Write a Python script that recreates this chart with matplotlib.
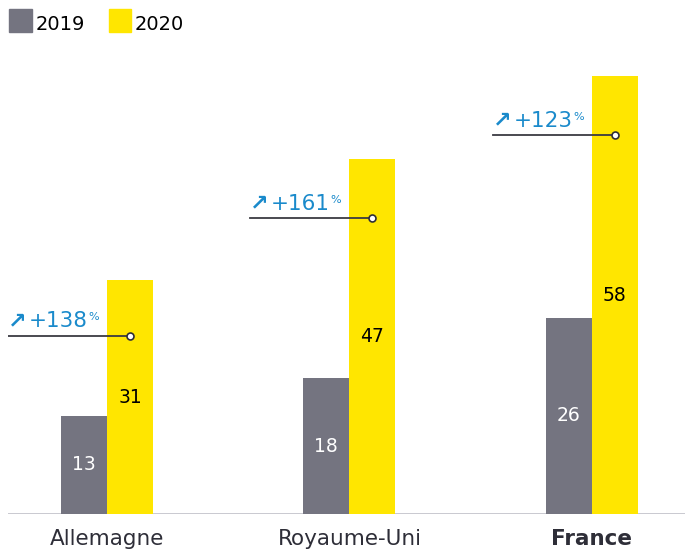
import matplotlib.pyplot as plt
from matplotlib.patches import Rectangle
import numpy as np

# ---------------- donnees ----------------
pays = ['Allemagne', 'Royaume-Uni', 'France']
val_2019 = [13, 18, 26]
val_2020 = [31, 47, 58]
hausse = ['+138', '+161', '+123']
niveau_ligne = [23.6, 39.2, 50.2]

gris = '#747480'
jaune = '#FFE600'
bleu = '#1a8acb'

fig = plt.figure(figsize=(6.85, 5.51), dpi=100)
ax = fig.add_axes([8 / 685, 37 / 551, 677 / 685, 483 / 551])

x = np.arange(len(pays))
w = 0.19
ax.bar(x - w / 2, val_2019, w, color=gris, zorder=2)
ax.bar(x + w / 2, val_2020, w, color=jaune, zorder=2)

for i in range(len(pays)):
    ax.text(x[i] - w / 2, val_2019[i] / 2, str(val_2019[i]), ha='center', va='center',
            color='white', fontsize=13.5, zorder=3)
    ax.text(x[i] + w / 2, val_2020[i] / 2, str(val_2020[i]), ha='center', va='center',
            color='black', fontsize=13.5, zorder=3)
    # ligne d'annotation
    x0 = x[i] - 0.408
    x1 = x[i] + w / 2
    ax.plot([x0, x1], [niveau_ligne[i]] * 2, color='#3a3a42', lw=1.3, zorder=4)
    ax.plot([x1], [niveau_ligne[i]], 'o', ms=5, mfc='white', mec='#2e2e38', mew=1.2, zorder=5)
    ax.text(x0, niveau_ligne[i] + 0.6, '\u2197', color=bleu, fontsize=16, fontweight='bold',
            ha='left', va='bottom', zorder=5)
    ax.text(x0 + 0.085, niveau_ligne[i] + 0.6, hausse[i], color=bleu, fontsize=15.5,
            ha='left', va='bottom', zorder=5)
    ax.text(x0 + 0.33, niveau_ligne[i] + 1.8, '%', color=bleu, fontsize=8,
            ha='left', va='bottom', zorder=5)

ax.set_xlim(-0.408, 2.384)
ax.set_ylim(0, 64)
ax.axhline(0, color='#c4c4cc', lw=2, zorder=1)
for s in ax.spines.values():
    s.set_visible(False)
ax.set_yticks([])
ax.set_xticks(x)
ax.set_xticklabels(pays, fontsize=15.5, color='#2e2e38')
ax.tick_params(axis='x', length=0, pad=11)
ax.get_xticklabels()[2].set_fontweight('bold')

# legende
fig.add_artist(Rectangle((9 / 685, 1 - 32 / 551), 23 / 685, 23 / 551,
                         transform=fig.transFigure, color=gris))
fig.text(36 / 685, 1 - 24 / 551, '2019', fontsize=14, va='center', ha='left')
fig.add_artist(Rectangle((109 / 685, 1 - 32 / 551), 22 / 685, 23 / 551,
                         transform=fig.transFigure, color=jaune))
fig.text(135 / 685, 1 - 24 / 551, '2020', fontsize=14, va='center', ha='left')

fig.savefig('out.png', dpi=100)
